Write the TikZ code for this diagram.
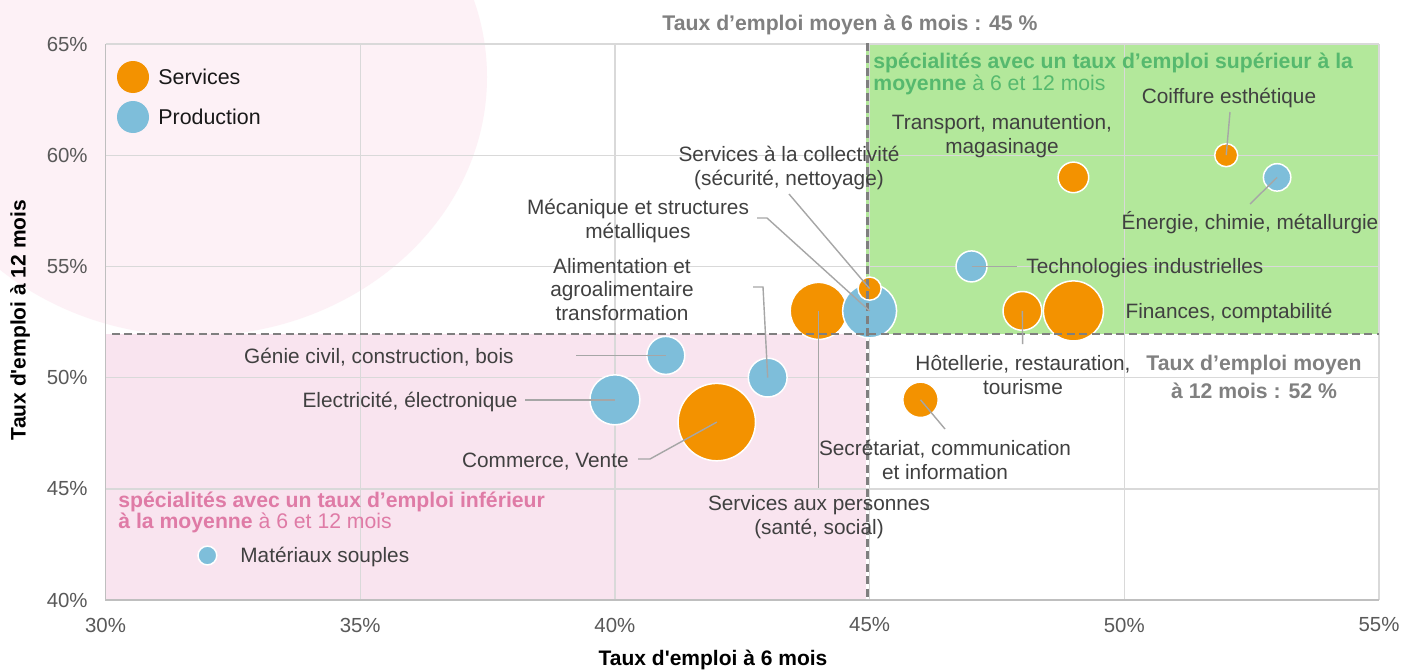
\documentclass[tikz,border=0pt]{standalone}
\usepackage{fontspec}
\setmainfont{Liberation Sans}
\definecolor{cOrange}{HTML}{F39200}
\definecolor{cBlue}{HTML}{7EBEDA}
\definecolor{cGreen}{HTML}{B3E89B}
\definecolor{cGreenT}{HTML}{56B96E}
\definecolor{cPinkR}{HTML}{F9E4EF}
\definecolor{cCircle}{HTML}{FDF1F6}
\definecolor{cPinkT}{HTML}{DF7BA6}
\definecolor{cGrid}{HTML}{D9D9D9}
\definecolor{cAxis}{HTML}{BFBFBF}
\definecolor{cDash}{HTML}{7F7F7F}
\definecolor{cLead}{HTML}{A6A6A6}
\definecolor{cLbl}{HTML}{404040}
\definecolor{cTick}{HTML}{595959}
\definecolor{cTitle}{HTML}{808080}
\begin{document}
\begin{tikzpicture}[x=0.5pt,y=-0.5pt,
  bub/.style={circle, draw=white, line width=0.75pt, inner sep=0pt},
  sv/.style={bub, fill=cOrange},
  pr/.style={bub, fill=cBlue},
  lead/.style={draw=cLead, line width=0.7pt},
  lbl/.style={text=cLbl, font=\fontsize{10.4}{11.8}\selectfont, inner sep=0pt, align=center, yshift=-0.6pt},
  ticklbl/.style={text=cTick, font=\fontsize{10.2}{12}\selectfont, inner sep=0pt},
  gridln/.style={draw=cGrid, line width=0.7pt},
  avg/.style={draw=cDash, line width=1.3pt, dash pattern=on 4pt off 2.2pt},
  avgtxt/.style={text=cTitle, font=\fontsize{10.6}{14}\selectfont\bfseries, inner sep=0pt, align=center},
  axtitle/.style={text=black, font=\fontsize{10.5}{12}\selectfont\bfseries, inner sep=0pt},
  legtxt/.style={text=black!90, font=\fontsize{10.7}{12}\selectfont, inner sep=0pt, anchor=west}
]
\fill[white] (0,0) rectangle (1402,669);
\useasboundingbox (0,0) rectangle (1402,669);
\begin{scope}
  \clip (0,0) rectangle (1402,669);
  \fill[cCircle] (195,77) ellipse [x radius=292, y radius=259];
\end{scope}
% zones
\fill[cGreen] (866,44) rectangle (1379,334);
\fill[cPinkR] (106,334) rectangle (866,600);
% grid
\foreach \gx in {105.5,360.2,614.9,869.6,1124.3,1379} \draw[gridln] (\gx,44) -- (\gx,600);
\foreach \gy in {44,155.2,266.4,377.6,488.8,600} \draw[gridln] (105.5,\gy) -- (1379,\gy);
\draw[draw=cAxis, line width=0.8pt] (105.5,44) -- (105.5,600) -- (1379,600);
% ticks
\node[ticklbl, anchor=east] (t65) at (88,44) {65\%};
\node[ticklbl, anchor=east] (t60) at (88,155.2) {60\%};
\node[ticklbl, anchor=east] (t55) at (88,266.4) {55\%};
\node[ticklbl, anchor=east] (t50) at (88,377.6) {50\%};
\node[ticklbl, anchor=east] (t45) at (88,488.8) {45\%};
\node[ticklbl, anchor=east] (t40) at (88,600) {40\%};
\node[ticklbl] (x30) at (105.5,625) {30\%};
\node[ticklbl] (x35) at (360.2,625) {35\%};
\node[ticklbl] (x40) at (614.9,625) {40\%};
\node[ticklbl] (x45) at (869.6,625) {45\%};
\node[ticklbl] (x50) at (1124.3,625) {50\%};
\node[ticklbl] (x55) at (1379,625) {55\%};
% axis titles
\node[axtitle] (xt) at (713,660) {Taux d\textquotesingle emploi à 6 mois};
\node[axtitle, rotate=90] (yt) at (20,320) {Taux d\textquotesingle emploi à 12 mois};
% bubbles
\node[sv, minimum size=11.5pt] (coif) at (1226.2,155.2) {};
\node[pr, minimum size=13.7pt] (ener) at (1277.1,177.4) {};
\node[sv, minimum size=15.3pt] (trans) at (1073.4,177.4) {};
\node[pr, minimum size=15.5pt] (tech) at (971.5,266.4) {};
\node[sv, minimum size=19.4pt] (hot) at (1022.4,310.9) {};
\node[sv, minimum size=30pt] (fin) at (1073.4,310.9) {};
\node[sv, minimum size=28.5pt] (sap) at (818.7,310.9) {};
\node[pr, minimum size=27pt] (mec) at (869.6,310.9) {};
\node[sv, minimum size=11.6pt] (col) at (869.6,288.6) {};
\node[pr, minimum size=19pt] (gen) at (665.8,355.4) {};
\node[pr, minimum size=19.4pt] (ali) at (767.7,377.6) {};
\node[pr, minimum size=25pt] (ele) at (614.9,399.8) {};
\node[sv, minimum size=38.7pt] (com) at (716.8,422.1) {};
\node[sv, minimum size=17.7pt] (sec) at (920.5,399.8) {};
\node[pr, minimum size=9.4pt] (mat) at (207.4,555.5) {};
% average lines
\coordinate (v1) at (867.5,43);
\coordinate (v2) at (867.5,600);
\coordinate (h1) at (112,334);
\coordinate (h2) at (1379,334);
\draw[avg] (v1) -- (v2);
\draw[avg] (h1) -- (h2);
% leaders
\coordinate (coifE) at (1230,112);
\coordinate (enerE) at (1250,204);
\coordinate (techE) at (1017,266.4);
\coordinate (hotE) at (1022.6,344);
\coordinate (colE) at (789,194);
\coordinate (mecE) at (757,218);
\coordinate (mecB) at (767,218);
\coordinate (aliE) at (753,287);
\coordinate (aliB) at (763,287);
\coordinate (sapE) at (818.7,488);
\coordinate (genE) at (576,355.4);
\coordinate (eleE) at (525,399.8);
\coordinate (comE) at (638,459);
\coordinate (comB) at (650,459);
\coordinate (secE) at (945,429);
\draw[lead] (coif.center) -- (coifE);
\draw[lead] (ener.center) -- (enerE);
\draw[lead] (tech.center) -- (techE);
\draw[lead] (hot.center) -- (hotE);
\draw[lead] (colE) -- (col.center);
\draw[lead] (mecE) -- (mecB) -- (mec.center);
\draw[lead] (aliE) -- (aliB) -- (ali.center);
\draw[lead] (sap.center) -- (sapE);
\draw[lead] (genE) -- (gen.center);
\draw[lead] (eleE) -- (ele.center);
\draw[lead] (comE) -- (comB) -- (com.center);
\draw[lead] (sec.center) -- (secE);
% labels
\node[lbl] (lcoif) at (1229,97) {Coiffure esthétique};
\node[lbl] (lener) at (1250,221) {Énergie, chimie, métallurgie};
\node[lbl] (ltrans) at (1002,135) {Transport, manutention,\\magasinage};
\node[lbl, anchor=west] (ltech) at (1026,267) {Technologies industrielles};
\node[lbl] (lfin) at (1229,312) {Finances, comptabilité};
\node[lbl] (lhot) at (1023,374) {Hôtellerie, restauration,\\tourisme};
\node[lbl] (lsec) at (945,459) {Secrétariat, communication\\et information};
\node[lbl] (lsap) at (819,516) {Services aux personnes\\(santé, social)};
\node[lbl, anchor=east] (lcom) at (629,460) {Commerce, Vente};
\node[lbl, anchor=east] (lele) at (518,401) {Electricité, électronique};
\node[lbl, anchor=east] (lgen) at (514,356) {Génie civil, construction, bois};
\node[lbl] (lali) at (622,288) {Alimentation et\\agroalimentaire\\transformation};
\node[lbl] (lmec) at (638,220) {Mécanique et structures\\métalliques};
\node[lbl] (lcol) at (789,167) {Services à la collectivité\\(sécurité, nettoyage)};
\node[lbl, anchor=west] (lmat) at (240,556) {Matériaux souples};
% averages text
\node[avgtxt] (avg6) at (850,25) {Taux d’emploi moyen à 6 mois : 45 \%};
\node[avgtxt] (avg12) at (1254,377) {Taux d’emploi moyen\\à 12 mois : 52 \%};
% zone texts
\node[text=cGreenT, font=\fontsize{10.6}{11}\selectfont, inner sep=0pt, align=left, anchor=west] (zsup) at (873,74)
  {\textbf{spécialités avec un taux d’emploi supérieur à la}\\\textbf{moyenne} à 6 et 12 mois};
\node[text=cPinkT, font=\fontsize{10.6}{10.5}\selectfont, inner sep=0pt, align=left, anchor=west] (zinf) at (118,512.5)
  {\textbf{spécialités avec un taux d’emploi inférieur}\\\textbf{à la moyenne} à 6 et 12 mois};
% legend
\node[sv, draw=none, minimum size=16pt] (legS) at (133,77) {};
\node[pr, draw=none, minimum size=16pt] (legP) at (133,117) {};
\node[legtxt] (legSt) at (158,77) {Services};
\node[legtxt] (legPt) at (158,117) {Production};
\end{tikzpicture}
\end{document}
